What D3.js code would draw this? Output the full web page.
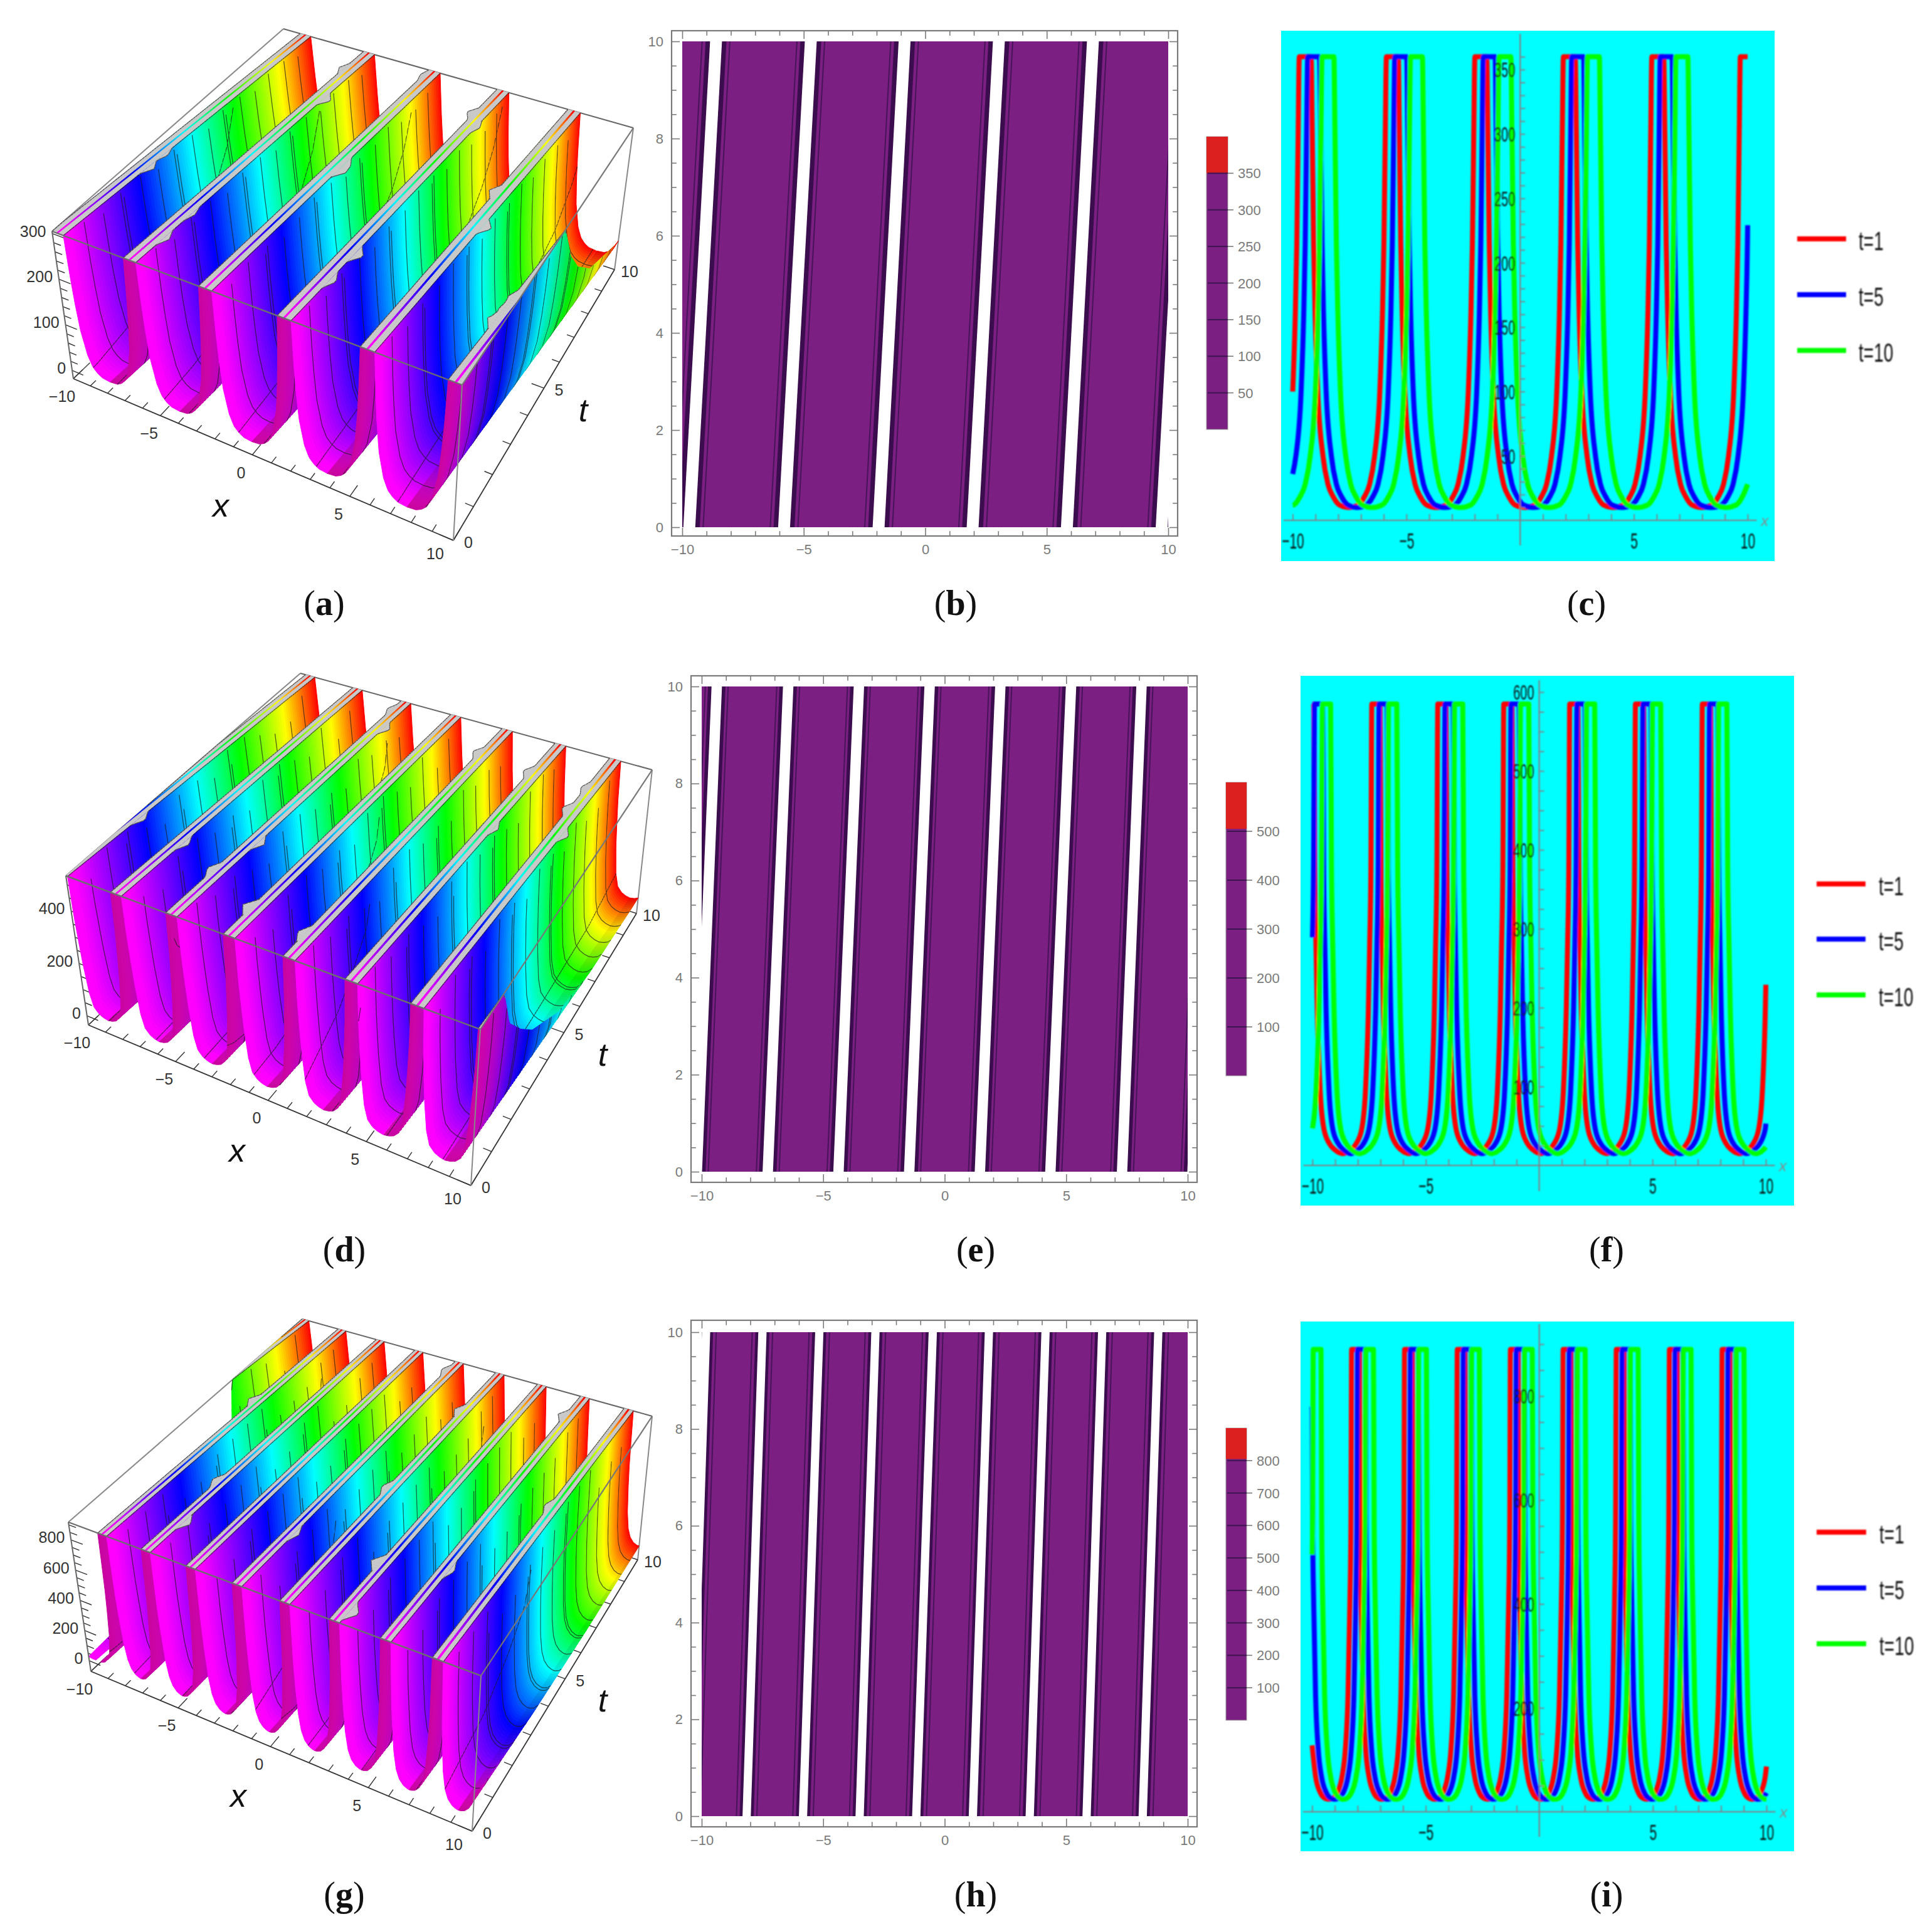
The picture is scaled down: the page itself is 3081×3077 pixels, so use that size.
<!DOCTYPE html>
<html>
<head>
<meta charset="utf-8">
<script src="https://d3js.org/d3.v7.min.js"></script>
<style>
  html, body { margin: 0; background: #fff; }
  svg { display: block; }
</style>
</head>
<body>
<div id="my_dataviz"></div>
<script>
// ---- values ----

// row 1: crest x of each ridge at t=0 and t=10, and one cross section (distance from crest -> height)
var crestsA0 = [-9.71, -5.81, -1.92, 1.95, 5.83, 9.73];
var crestsA10 = [-8.61, -4.71, -0.85, 3.03, 6.9, 10.83];
var profileDistA = [0, 0.26, 0.31, 0.37, 0.44, 0.55, 0.78, 1.0, 1.24, 1.5, 1.94];
var profileValA = [1400, 360, 300, 215, 157, 100, 50, 28, 18, 12, 10];
// [crest index, t, side, extra cap width] for the grey spikes along the caps
var spikesA = [[0,3,1,.32],[0,3.6,1,.2],[1,1,1,.26],[1,2,1,.16],[1,7.5,1,.42],[1,9,-1,.26],[2,5,1,.4],[2,5.3,1,.32],[2,9.7,-1,.16],
  [3,1.5,1,.29],[3,2.5,1,.42],[3,8.7,-1,.35],[3,8.2,1,.2],[4,4.7,1,.42],[4,6,-1,.32],[5,2,-1,.32],[5,2.4,-1,.2],[5,2.8,-1,.2]];
var crestsT1A = [-9.45, -5.62, -1.73, 2.16, 6.05, 9.94];
var crestsT5A = [-9.08, -5.25, -1.36, 2.53, 6.42, 10.36];
var crestsT10A = [-8.45, -4.56, -0.67, 3.22, 7.11, 11.0];

// row 2
var crestsD0 = [-10.2, -7.28, -4.37, -1.46, 1.45, 4.35, 7.3, 10.2];
var crestsD10 = [-9.38, -6.44, -3.53, -0.62, 2.29, 5.2, 8.1, 11.0];
var profileDistD = [0, 0.18, 0.22, 0.275, 0.33, 0.46, 0.62, 0.86, 1.1, 1.45];
var profileValD = [2000, 585, 380, 280, 200, 95, 47, 28, 20, 15];
var spikesD = [[0,2.5,1,.32],[1,2.2,1,.29],[2,1.7,-1,.32],[2,3,1,.32],[2,8.6,1,.35],[2,9.5,-1,.24],[3,1,-1,.4],[4,.8,-1,.32],
  [4,8.7,-1,.32],[5,8.5,-1,.32],[5,6,1,.22],[6,7.5,-1,.32],[6,6.5,1,.32],[6,8.5,-1,.22]];
var crestsT1D = [-10.12, -7.2, -4.29, -1.38, 1.53, 4.43, 7.38, 10.31];
var crestsT5D = [-9.73, -6.88, -3.97, -1.06, 1.85, 4.76, 7.7, 10.6];
var crestsT10D = [-9.38, -6.46, -3.55, -0.64, 2.27, 5.18, 8.1, 11.0];

// row 3
var crestsG0 = [-10.48, -8.15, -5.83, -3.5, -1.17, 1.16, 3.5, 5.84, 8.15, 10.48];
var crestsG10 = [-9.82, -7.5, -5.16, -2.85, -0.49, 1.82, 4.15, 6.48, 8.79, 11.11];
// in the 3D view the first wall only comes in around t=6.5
var crestsG0Surface = [-11.02, -8.15, -5.83, -3.5, -1.17, 1.16, 3.5, 5.84, 8.15, 10.48];
var profileDistG = [0, 0.17, 0.2, 0.25, 0.33, 0.45, 0.6, 0.8, 1, 1.17];
var profileValG = [3000, 890, 560, 397, 226, 119, 66, 37, 26, 24];
var spikesG = [[1,6,-1,.32],[2,1.2,1,.35],[2,2.8,-1,.29],[4,2,1,.22],[6,.4,1,.42],[6,2,-1,.38],[5,8,-1,.29],[4,9.5,-1,.26],
  [7,2.5,1,.22],[8,5.5,-1,.22],[7,9,-1,.32],[5,4.4,-1,.26]];
var crestsT1G = [-10.44, -8.09, -5.76, -3.44, -1.1, 1.22, 3.56, 5.9, 8.22, 10.54];
var crestsT5G = [-10.18, -7.83, -5.5, -3.17, -0.84, 1.49, 3.82, 6.15, 8.48, 10.81];
var crestsT10G = [-9.78, -7.47, -5.14, -2.81, -0.48, 1.85, 4.18, 6.51, 8.84, 11.17];

// tick labels
var xTicks = [-10, -5, 0, 5, 10];
var xMinor = d3.range(-10, 11);
var tTicks = [0, 5, 10];
var tMinor = d3.range(0, 11);
var yTicksPlot = [0, 2, 4, 6, 8, 10];
var yMinorPlot = d3.range(0, 10.5, 0.5);
var zTicksA = [0, 100, 200, 300];
var zTicksD = [0, 200, 400];
var zTicksG = [0, 200, 400, 600, 800];
var barTicksB = [50, 100, 150, 200, 250, 300, 350];
var barTicksE = [100, 200, 300, 400, 500];
var barTicksH = [100, 200, 300, 400, 500, 600, 700, 800];
var lineTicksC = [50, 100, 150, 200, 250, 300, 350];
var lineTicksF = [100, 200, 300, 400, 500, 600];
var lineTicksI = [200, 400, 600, 800];
var legendLabels = ["t=1", "t=5", "t=10"];

// colours
var hueStops = ["#ff00ff", "#0000ff", "#00ffff", "#00ff00", "#ffff00", "#ff0000"];
var hueDomain = [0.2, 2.6, 4.6, 6.4, 8.4, 10];
var seriesColors = ["#ff0000", "#0000ff", "#00ff00"];

// ---- page ----
var svg = d3.select("#my_dataviz").append("svg").attr("width", 3081).attr("height", 3077)
  .style("font-family", "'Liberation Sans', Arial, sans-serif");

var defs = svg.append("defs");
defs.append("filter").attr("id", "soft").attr("x", "-5%").attr("y", "-5%").attr("width", "110%").attr("height", "110%")
  .append("feGaussianBlur").attr("stdDeviation", 1.1);

var hue = d3.scaleLinear().domain(hueDomain).range(hueStops).clamp(true);
var MINUS = function(v) { return String(v).replace("-", "\u2212"); };

// crests move between their t=0 and t=10 positions
function crestAt(c0, c10, i, t) { return c0[i] + (c10[i] - c0[i]) * t / 10; }

function profileFn(dist, val) { return d3.scaleLinear().domain(dist).range(val).clamp(true); }

function heightAt(p, c0, c10, x, t) {
  var best = 1e9;
  c0.forEach(function(_, i) { best = Math.min(best, Math.abs(x - crestAt(c0, c10, i, t))); });
  return p(best);
}

// square -> quad map for one face of the box
function quadMap(p) {
  var x0=p[0][0],y0=p[0][1],x1=p[1][0],y1=p[1][1],x2=p[2][0],y2=p[2][1],x3=p[3][0],y3=p[3][1];
  var sx=x0-x1+x2-x3, sy=y0-y1+y2-y3, dx1=x1-x2, dx2=x3-x2, dy1=y1-y2, dy2=y3-y2;
  var det=dx1*dy2-dx2*dy1, g=(sx*dy2-dx2*sy)/det, h=(dx1*sy-sx*dy1)/det;
  var a=x1-x0+g*x1, b=x3-x0+h*x3, d=y1-y0+g*y1, e=y3-y0+h*y3;
  return function(u,v) { var w=g*u+h*v+1; return [(a*u+b*v+x0)/w, (d*u+e*v+y0)/w]; };
}

// ---- 3D panels (a, d, g) ----
function drawSurface(o) {
  var g = svg.append("g");
  var xs = d3.scaleLinear().domain([-10, 10]).range([0, 1]);
  var ts = d3.scaleLinear().domain([0, 10]).range([0, 1]);
  var zs = d3.scaleLinear().domain(o.zDomain).range([0, 1]);
  var top = quadMap([o.tfl, o.tfr, o.tbr, o.tbl]), bot = quadMap([o.bfl, o.bfr, o.bbr, o.bbl]);
  var P = function(x, t, z) {
    var a = top(xs(x), ts(t)), b = bot(xs(x), ts(t)), w = zs(z);
    return [b[0] + (a[0] - b[0]) * w, b[1] + (a[1] - b[1]) * w];
  };
  var line = d3.line();
  var edge = function(a, b, col, wd) {
    g.append("path").attr("d", line([a, b])).attr("fill", "none").attr("stroke", col).attr("stroke-width", wd);
  };
  var zb = o.zDomain[0], zt = o.zDomain[1];

  // back of the box and the floor axes
  edge(o.tfl, o.tbl, "#888", 2); edge(o.tbl, o.tbr, "#666", 2); edge(o.tbr, o.bbr, "#888", 2);
  edge(o.bfl, o.bfr, "#333", 1.8); edge(o.bfr, o.bbr, "#333", 1.8); edge(o.bfl, P(-10, 0.6, zb), "#555", 1.6);

  xMinor.forEach(function(x) {
    var m = xTicks.indexOf(x) >= 0;
    edge(P(x, 0, zb), P(x, m ? 0.34 : 0.2, zb), "#333", 1.4);
  });
  tMinor.forEach(function(t) {
    var m = tTicks.indexOf(t) >= 0;
    edge(P(10, t, zb), P(m ? 9.35 : 9.6, t, zb), "#333", 1.4);
  });
  d3.range(0, o.zDomain[1], o.zMinor).forEach(function(z) {
    var m = o.zTicks.indexOf(z) >= 0;
    edge(P(-10, 0, z), P(m ? -9.35 : -9.6, 0, z), "#333", 1.4);
  });

  // the wall reaches the box top right at the cap edge
  var p0 = profileFn(o.dist, o.val);
  var shift = o.cap - p0.invert(zt);
  var p = function(d) { return p0(Math.max(0, d - shift)); };
  var nT = 110, c0 = o.c0, c10 = o.c10;
  var meshT = d3.range(1, 15).map(function(k) { return k * 10 / 15; });
  var meshX = d3.range(1, 15).map(function(k) { return -10 + k * 20 / 15; });

  function spikeWidth(i, side, t) {
    var w = 0;
    o.spikes.forEach(function(s) {
      if (s[0] === i && s[2] === side) w += s[3] * Math.max(0, 1 - Math.abs(t - s[1]) / 0.3);
    });
    return w;
  }
  var inRange = function(x) { return Math.max(-10, Math.min(10, x)); };

  for (var s = nT - 1; s >= 0; s--) {
    var t0 = s * 10 / nT, t1 = (s + 1) * 10 / nT, tm = (t0 + t1) / 2;
    var strip = g.append("g");
    var col = hue(tm);
    var backCol = d3.interpolateRgb(d3.rgb(col).darker(0.22).formatHex(), "#b8087e")(0.7 * Math.max(0, 1 - tm / 1.6));
    var meshPath = [];

    c0.forEach(function(_, i) {
      var half = ((c0[i + 1] !== undefined ? c0[i + 1] - c0[i] : c0[i] - c0[i - 1])) / 2;
      // signed distances from the crest, denser near the top
      var ds = [];
      for (var d = half; d > 0.9; d -= 0.06) ds.push(d);
      for (d = 0.9; d > 0.06; d -= 0.02) ds.push(d);
      ds.push(o.cap, 0.05, 0);
      ds.sort(function(a, b) { return b - a; });
      var sds = ds.map(function(v) { return -v; }).concat(ds.slice(0, -1).reverse());

      var surf = function(dv, t) {
        var x = crestAt(c0, c10, i, t) + dv;
        var cl = inRange(x);
        var z = cl === x && Math.abs(dv) <= o.cap ? zt : Math.min(zt, heightAt(p, c0, c10, cl, t));
        return { pt: P(cl, t, z), out: cl !== x };
      };
      var run = null, runs = [];
      for (var k = 0; k < sds.length - 1; k++) {
        var da = sds[k], db = sds[k + 1], mid = (da + db) / 2, side = mid < 0 ? -1 : 1;
        var type = Math.abs(mid) < 0.05 ? "line"
          : (Math.abs(da) <= o.cap && Math.abs(db) <= o.cap) ? "cap" : mid < 0 ? "back" : "front";
        var a0 = surf(da, t0), b0 = surf(db, t0), a1 = surf(da, t1), b1 = surf(db, t1);
        if (a0.out && b0.out && a1.out && b1.out) continue;
        if (!run || run.type !== type) {
          run = { type: type, side: side, up: [a1.pt], dn: [a0.pt] };
          runs.push(run);
        }
        run.up.push(b1.pt); run.dn.push(b0.pt);
      }
      runs.forEach(function(r) {
        var fill = r.type === "cap" ? "#c9c9c9" : r.type === "back" ? backCol : col;
        var n = r.up.length - 1;
        strip.append("path").attr("d", line(r.up.concat(r.dn.slice().reverse())) + "Z")
          .attr("fill", fill).attr("stroke", fill).attr("stroke-width", 1);
        // dark rim along the outer edge of the cap
        if (r.type === "cap" && spikeWidth(i, r.side, tm) === 0) {
          meshPath.push(r.side < 0 ? line([r.up[0], r.dn[0]]) : line([r.up[n], r.dn[n]]));
        }
      });

      // grey spikes lie flat on the box top, over the wall below them
      [-1, 1].forEach(function(sd) {
        var wa = spikeWidth(i, sd, t0), wb = spikeWidth(i, sd, t1);
        if (wa === 0 && wb === 0) return;
        var ca = crestAt(c0, c10, i, t0), cb = crestAt(c0, c10, i, t1);
        var q = [P(inRange(ca + sd * o.cap), t0, zt), P(inRange(ca + sd * (o.cap + wa)), t0, zt),
                 P(inRange(cb + sd * (o.cap + wb)), t1, zt), P(inRange(cb + sd * o.cap), t1, zt)];
        strip.append("path").attr("d", line(q) + "Z").attr("fill", "#c9c9c9").attr("stroke", "#c9c9c9").attr("stroke-width", 0.8);
        meshPath.push(line([q[1], q[2]]));
      });

      // constant-x mesh lines on this strip
      meshX.forEach(function(mx) {
        var xa = mx - crestAt(c0, c10, i, t0);
        if (Math.abs(xa) > Math.abs(half) || Math.abs(xa) < o.cap + 0.02) return;
        var za = Math.min(zt, heightAt(p, c0, c10, mx, t0)), zc = Math.min(zt, heightAt(p, c0, c10, mx, t1));
        meshPath.push(line([P(mx, t0, za), P(mx, t1, zc)]));
      });
    });

    // constant-t mesh line through the middle of the strip
    meshT.forEach(function(mt) {
      if (Math.abs(mt - tm) >= 5 / nT) return;
      var pts = d3.range(-10, 10.001, 0.02).map(function(x) {
        var z = heightAt(p, c0, c10, x, tm);
        return { p: P(x, tm, Math.min(z, zt)), on: z < zt * 0.985 };
      });
      var mesh = d3.line().defined(function(d) { return d.on; }).x(function(d) { return d.p[0]; }).y(function(d) { return d.p[1]; });
      meshPath.push(mesh(pts));
    });
    if (meshPath.length) strip.append("path").attr("d", meshPath.join("")).attr("fill", "none")
      .attr("stroke", "#1c1c1c").attr("stroke-opacity", 0.68).attr("stroke-width", 1.3);
  }

  // front of the box, over the surface
  edge(o.tfl, o.tfr, "#6e6e6e", 2.4); edge(o.tfr, o.tbr, "#777", 2.2);
  edge(o.tfr, o.bfr, "#888", 2); edge(o.tfl, o.bfl, "#666", 2);

  var labels = g.append("g").attr("fill", "#333").attr("font-size", 25);
  xTicks.forEach(function(x) {
    var q = P(x, 0, zb);
    labels.append("text").attr("x", q[0] + (x === 10 ? -29 : -18)).attr("y", q[1] + (x === 10 ? 30 : 37)).attr("text-anchor", "middle").text(MINUS(x));
  });
  tTicks.forEach(function(t) {
    var q = P(10, t, zb);
    labels.append("text").attr("x", q[0] + 24).attr("y", q[1] + 12).attr("text-anchor", "middle").text(MINUS(t));
  });
  o.zTicks.forEach(function(z) {
    var q = P(-10, 0, z);
    labels.append("text").attr("x", q[0] - 10).attr("y", q[1] + 5).attr("text-anchor", "end").text(MINUS(z));
  });
  [["x", o.xTitle], ["t", o.tTitle]].forEach(function(d) {
    g.append("text").attr("x", d[1][0]).attr("y", d[1][1]).attr("text-anchor", "middle").attr("fill", "#111")
      .attr("font-size", 52).attr("font-style", "italic").text(d[0]);
  });
}

// ---- contour panels (b, e, h) ----
function frameAxis(g, fn, scale, majors, minors, labelled, tx, ty, attr) {
  var a = g.append("g").attr("transform", "translate(" + tx + "," + ty + ")")
    .call(fn(scale).tickValues(minors).tickSizeInner(-13).tickSizeOuter(0).tickPadding(13)
      .tickFormat(function(v) { return labelled && majors.indexOf(v) >= 0 ? MINUS(v) : ""; }));
  a.select(".domain").remove();
  a.selectAll("text").attr("font-family", "'Liberation Sans'").attr("font-size", 22).attr("fill", "#7a7a7a");
  a.selectAll(".tick line").attr("stroke", "#7a7a7a").attr("stroke-width", 1.6)
    .filter(function(v) { return majors.indexOf(v) < 0; })
    .attr(attr, function() { return +d3.select(this).attr(attr) * 0.6; });
}

function drawContour(o) {
  var g = svg.append("g");
  var x = d3.scaleLinear().domain([-10, 10]).range(o.xRange);
  var y = d3.scaleLinear().domain([0, 10]).range(o.yRange);
  var clipId = "clip" + o.id;
  defs.append("clipPath").attr("id", clipId).append("rect")
    .attr("x", o.xRange[0]).attr("y", o.yRange[1])
    .attr("width", o.xRange[1] - o.xRange[0]).attr("height", o.yRange[0] - o.yRange[1]);

  var body = g.append("g").attr("clip-path", "url(#" + clipId + ")");
  body.append("rect").attr("x", o.xRange[0]).attr("y", o.yRange[1])
    .attr("width", o.xRange[1] - o.xRange[0]).attr("height", o.yRange[0] - o.yRange[1]).attr("fill", "#7b1f82");

  var band = function(i, a, b, fill) {
    var c = [0, 10].map(function(t) { return crestAt(o.c0, o.c10, i, t); });
    var pts = [[x(c[0] + a), y(0)], [x(c[1] + a), y(10)], [x(c[1] + b), y(10)], [x(c[0] + b), y(0)]];
    body.append("path").attr("d", d3.line()(pts) + "Z").attr("fill", fill);
  };
  o.c0.forEach(function(_, i) {
    band(i, -o.bandOuter, o.bandOuter, "#3c0d4e");
    band(i, -o.gapHalf, o.gapHalf, "#fff");
    [-1, 1].forEach(function(sd) {
      var c = [0, 10].map(function(t) { return crestAt(o.c0, o.c10, i, t) + sd * o.lineDist; });
      body.append("path").attr("d", d3.line()([[x(c[0]), y(0)], [x(c[1]), y(10)]]))
        .attr("fill", "none").attr("stroke", "#47145a").attr("stroke-width", 2);
    });
  });

  var L = o.frame;
  g.append("rect").attr("x", L[0]).attr("y", L[1]).attr("width", L[2] - L[0]).attr("height", L[3] - L[1])
    .attr("fill", "none").attr("stroke", "#7a7a7a").attr("stroke-width", 2.2);
  frameAxis(g, d3.axisBottom, x, xTicks, xMinor, true, 0, L[3], "y2");
  frameAxis(g, d3.axisTop, x, xTicks, xMinor, false, 0, L[1], "y2");
  frameAxis(g, d3.axisLeft, y, yTicksPlot, yMinorPlot, true, L[0], 0, "x2");
  frameAxis(g, d3.axisRight, y, yTicksPlot, yMinorPlot, false, L[2], 0, "x2");

  // colour bar
  var b = d3.scaleLinear().domain(o.barDomain).range(o.barRange);
  var bw = o.barX[1] - o.barX[0];
  g.append("rect").attr("x", o.barX[0]).attr("y", b(o.barDomain[1])).attr("width", bw)
    .attr("height", b(o.barDomain[0]) - b(o.barDomain[1])).attr("fill", "#7b1f82").attr("stroke", "#999").attr("stroke-width", 1);
  g.append("rect").attr("x", o.barX[0]).attr("y", b(o.barDomain[1])).attr("width", bw)
    .attr("height", b(o.barCut) - b(o.barDomain[1])).attr("fill", "#dc2020");
  o.barTicks.forEach(function(v) {
    g.append("line").attr("x1", o.barX[0] + 2).attr("x2", o.barX[1]).attr("y1", b(v)).attr("y2", b(v))
      .attr("stroke", "#3c1450").attr("stroke-width", 2);
    g.append("line").attr("x1", o.barX[1]).attr("x2", o.barX[1] + 9).attr("y1", b(v)).attr("y2", b(v))
      .attr("stroke", "#7a7a7a").attr("stroke-width", 1.6);
    g.append("text").attr("x", o.barX[1] + 16).attr("y", b(v) + 8).attr("fill", "#7a7a7a").attr("font-size", 22).text(v);
  });
}

// ---- line panels (c, f, i) ----
function drawLines(o) {
  var g = svg.append("g");
  g.append("rect").attr("x", o.box[0]).attr("y", o.box[1]).attr("width", o.box[2] - o.box[0])
    .attr("height", o.box[3] - o.box[1]).attr("fill", "#00ffff");
  var soft = g.append("g").attr("filter", "url(#soft)");
  var x = d3.scaleLinear().domain([-10, 10]).range(o.xRange);
  var y = d3.scaleLinear().domain(o.yDomain).range(o.yRange);
  var ln = d3.line().curve(d3.curveMonotoneX).x(function(d) { return x(d[0]); }).y(function(d) { return y(d[1]); });
  var p = profileFn(o.dist, o.val);
  var capDist = o.dist[1];

  o.series.forEach(function(crests, i) {
    // each crest: the read cross section on both sides, flat along the clipped top
    var pts = [];
    crests.forEach(function(c) {
      pts.push([c - capDist, o.cap], [c + capDist, o.cap]);
      o.dist.forEach(function(d, k) {
        if (k < 2) return;
        pts.push([c - d, o.val[k]], [c + d, o.val[k]]);
      });
    });
    pts = pts.filter(function(d) { return d[0] > -10 && d[0] < 10; });
    // the two ends of the range
    [-10, 10].forEach(function(e) {
      var near = d3.min(crests, function(c) { return Math.abs(e - c); });
      pts.push([e, Math.min(o.cap, p(near))]);
    });
    pts.sort(function(a, b) { return a[0] - b[0]; });
    pts = pts.filter(function(d, k) { return k === 0 || k === pts.length - 1 || d[0] - pts[k - 1][0] > 0.015; });
    soft.append("path").attr("d", ln(pts)).attr("fill", "none").attr("stroke", seriesColors[i])
      .attr("stroke-width", 8).attr("stroke-linejoin", "round");
  });

  // x axis
  var ax = soft.append("g").attr("transform", "translate(0," + y(0) + ")")
    .call(d3.axisBottom(x).tickValues(xMinor.filter(function(v) { return v !== 0; })).tickSizeInner(-10).tickSizeOuter(0)
      .tickFormat(function(v) { return xTicks.indexOf(v) >= 0 ? MINUS(v) : ""; }));
  ax.select(".domain").attr("d", d3.line()([[x(-10.4), 0], [x(10.4), 0]])).attr("stroke", "#8a7a80").attr("stroke-width", 2.2);
  ax.selectAll(".tick line").attr("stroke", "#8a7a80").attr("stroke-width", 1.8);
  ax.selectAll("text").attr("font-family", "'Liberation Sans'").attr("font-size", 21).attr("fill", "#111")
    .attr("y", 19).attr("dy", "0.35em").attr("transform", "scale(1,1.7)");

  // y axis
  var yAxis = soft.append("g").attr("transform", "translate(" + x(0) + ",0)")
    .call(d3.axisLeft(y).tickValues(o.yMinor).tickSizeInner(-8).tickSizeOuter(0)
      .tickFormat(function(v) { return o.yTicks.indexOf(v) >= 0 ? v : ""; }));
  yAxis.select(".domain").attr("d", d3.line()([[0, o.axisEnds[0]], [0, o.axisEnds[1]]])).attr("stroke", "#8a7a80").attr("stroke-width", 2.2);
  yAxis.selectAll(".tick line").attr("stroke", "#8a7a80").attr("stroke-width", 1.8);
  yAxis.selectAll("text").attr("font-family", "'Liberation Sans'").attr("font-size", 20).attr("fill", "#111")
    .attr("x", -8).attr("y", 0).attr("dy", "0.35em").attr("transform", "scale(1,1.7)");

  soft.append("text").attr("x", x(10.75)).attr("y", y(0) + 9).attr("text-anchor", "middle")
    .attr("fill", "#8a8a8a").attr("font-style", "italic").attr("font-size", 24).text("x");

  legendLabels.forEach(function(lab, i) {
    var yy = o.legendY[i];
    soft.append("line").attr("x1", o.legendX[0]).attr("x2", o.legendX[1]).attr("y1", yy).attr("y2", yy)
      .attr("stroke", seriesColors[i]).attr("stroke-width", 8);
    soft.append("text").attr("transform", "translate(" + o.legendX[2] + "," + (yy + 18) + ") scale(1,1.5)")
      .attr("font-size", 28).attr("fill", "#111").text(lab);
  });
}

// ---- panel labels ----
function panelLabel(letter, cx, cy) {
  var t = svg.append("text").attr("x", cx).attr("y", cy).attr("text-anchor", "middle")
    .attr("font-family", "'Liberation Serif', serif").attr("font-size", 56).attr("fill", "#111");
  t.append("tspan").text("(");
  t.append("tspan").attr("font-weight", "bold").text(letter);
  t.append("tspan").text(")");
}

// ---- build the nine panels ----
drawSurface({ c0: crestsA0, c10: crestsA10, dist: profileDistA, val: profileValA, spikes: spikesA, cap: 0.33,
  zDomain: [-18, 305], zTicks: zTicksA, zMinor: 20,
  tfl: [83, 369], tfr: [737, 614], tbr: [1010, 204], tbl: [452, 46],
  bfl: [117, 604], bfr: [723, 862], bbr: [980, 430], bbl: [474, 262],
  xTitle: [352, 824], tTitle: [930, 672] });
drawContour({ id: "b", c0: crestsA0, c10: crestsA10, gapHalf: 0.245, bandOuter: 0.43, lineDist: 0.57,
  xRange: [1088, 1863], yRange: [841, 66], frame: [1071, 49, 1878, 855],
  barX: [1924, 1958], barDomain: [0, 400], barRange: [685, 218], barCut: 350, barTicks: barTicksB });
drawLines({ box: [2043, 49, 2830, 895], xRange: [2061.5, 2787], yDomain: [0, 350], yRange: [830, 111], cap: 360,
  dist: profileDistA, val: profileValA, series: [crestsT1A, crestsT5A, crestsT10A],
  yTicks: lineTicksC, yMinor: d3.range(10, 361, 10), axisEnds: [54, 870],
  legendX: [2866, 2944, 2964], legendY: [381, 470, 559] });

drawSurface({ c0: crestsD0, c10: crestsD10, dist: profileDistD, val: profileValD, spikes: spikesD, cap: 0.29,
  zDomain: [-35, 535], zTicks: zTicksD, zMinor: 50,
  tfl: [105, 1397], tfr: [766, 1642], tbr: [1040, 1228], tbl: [479, 1074],
  bfl: [141, 1635], bfr: [751, 1891], bbr: [1015, 1457], bbl: [503, 1292],
  xTitle: [378, 1853], tTitle: [961, 1700] });
drawContour({ id: "e", c0: crestsD0, c10: crestsD10, gapHalf: 0.214, bandOuter: 0.36, lineDist: 0.47,
  xRange: [1119, 1894], yRange: [1869, 1095], frame: [1102, 1078, 1909, 1886],
  barX: [1955, 1988], barDomain: [0, 600], barRange: [1716, 1248], barCut: 505, barTicks: barTicksE });
drawLines({ box: [2074, 1078, 2861, 1923], xRange: [2093, 2816], yDomain: [0, 600], yRange: [1859, 1104], cap: 585,
  dist: profileDistD, val: profileValD, series: [crestsT1D, crestsT5D, crestsT10D],
  yTicks: lineTicksF, yMinor: d3.range(25, 601, 25), axisEnds: [1085, 1900],
  legendX: [2897, 2975, 2996], legendY: [1410, 1498, 1587] });

drawSurface({ c0: crestsG0Surface, c10: crestsG10, dist: profileDistG, val: profileValG, spikes: spikesG, cap: 0.24,
  zDomain: [-70, 918], zTicks: zTicksG, zMinor: 50,
  tfl: [109, 2428], tfr: [767, 2673], tbr: [1040, 2259], tbl: [482, 2104],
  bfl: [145, 2666], bfr: [753, 2921], bbr: [1017, 2488], bbl: [507, 2322],
  xTitle: [380, 2882], tTitle: [961, 2730] });
drawContour({ id: "h", c0: crestsG0, c10: crestsG10, gapHalf: 0.17, bandOuter: 0.29, lineDist: 0.42,
  xRange: [1119, 1894], yRange: [2897, 2125], frame: [1102, 2106, 1909, 2914],
  barX: [1955, 1988], barDomain: [0, 900], barRange: [2744, 2278], barCut: 805, barTicks: barTicksH });
drawLines({ box: [2074, 2108, 2861, 2953], xRange: [2092.5, 2817], yDomain: [0, 800], yRange: [2890, 2227], cap: 890,
  dist: profileDistG, val: profileValG, series: [crestsT1G, crestsT5G, crestsT10G],
  yTicks: lineTicksI, yMinor: d3.range(50, 901, 50), axisEnds: [2112, 2930],
  legendX: [2897, 2976, 2997], legendY: [2444, 2533, 2622] });

panelLabel("a", 517, 981); panelLabel("b", 1524, 981); panelLabel("c", 2530, 981);
panelLabel("d", 549, 2012); panelLabel("e", 1556, 2012); panelLabel("f", 2562, 2012);
panelLabel("g", 549, 3041); panelLabel("h", 1556, 3041); panelLabel("i", 2562, 3041);
</script>
</body>
</html>
